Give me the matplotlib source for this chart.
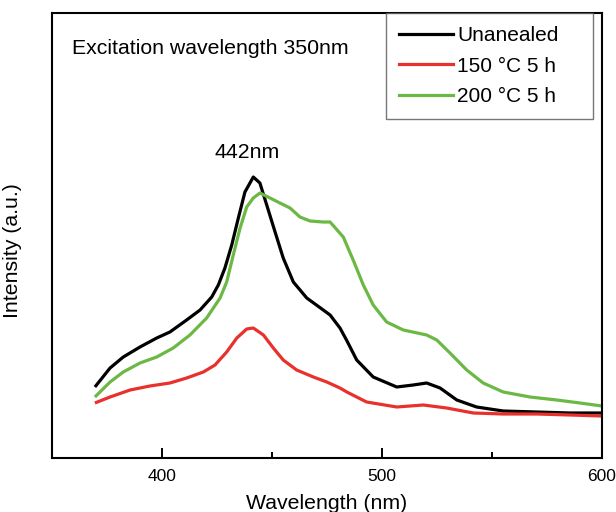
import matplotlib
matplotlib.use("Agg")
import matplotlib.pyplot as plt
from matplotlib.lines import Line2D
from matplotlib.ticker import MultipleLocator

# -------------------------------------------------------
# Data (arbitrary units)
# -------------------------------------------------------

wl_unannealed = [369.5, 376.4, 382.4, 390, 397.6, 403.6, 411.2, 417.3, 422.6, 425.6,
                 428.6, 431.7, 434.7, 437.7, 441.5, 444.5, 447.6, 451.4, 455.1, 459.7,
                 465.8, 473.3, 476.4, 480.9, 484.1, 488.5, 496, 506.7, 514.2, 520.3,
                 526.4, 534, 543, 555.1, 570.3, 585.5, 600]
int_unannealed = [71, 90, 101, 111, 120, 126, 138, 148, 161, 173,
                  190, 213, 240, 266, 281, 275, 253, 226, 200, 176,
                  160, 148, 143, 130, 117, 98, 81, 71, 73, 75,
                  70, 58, 51, 47, 46, 45, 45]

wl_150 = [369.5, 376.4, 385.5, 394.5, 403.6, 411.2, 418.8, 424.1, 429.4, 434,
          438.5, 441.5, 446.1, 450.6, 455.1, 461.2, 468.8, 474.9, 480.9, 484,
          493, 506.7, 518.8, 529.4, 541.5, 555.1, 570.3, 585.5, 600]
int_150 = [55, 61, 68, 72, 75, 80, 86, 93, 106, 120,
           129, 130, 123, 110, 98, 88, 81, 76, 70, 66,
           56, 51, 53, 50, 45, 44, 44, 43, 42]

wl_200 = [369.5, 376.4, 382.4, 390, 397.6, 405.1, 412.7, 420.3, 426.4, 429.4,
          432.4, 435.5, 438.5, 441.5, 444.5, 449.1, 453.6, 458.2, 462.7, 467.3,
          473.3, 476.4, 482.4, 486.9, 491.5, 496, 502.1, 509.7, 520.3, 524.9,
          530.9, 538.5, 546, 555.1, 567.3, 579.4, 590, 600]
int_200 = [61, 76, 86, 95, 101, 110, 123, 140, 160, 176,
           203, 230, 251, 260, 265, 260, 255, 250, 241, 237,
           236, 236, 221, 198, 173, 153, 136, 128, 123, 118,
           105, 88, 75, 66, 61, 58, 55, 52]

labels = ["Unanealed", "150 \u00b0C 5 h", "200 \u00b0C 5 h"]
colors = ["black", "#e8302c", "#6cb844"]

# -------------------------------------------------------
# Figure
# -------------------------------------------------------

plt.rcParams["font.family"] = ["Liberation Sans", "DejaVu Sans"]

fig = plt.figure(figsize=(6.16, 5.12), dpi=100)
ax = fig.add_axes([52 / 616, 54 / 512, 550 / 616, 445 / 512])

line_kw = dict(lw=2.3, solid_joinstyle="round", solid_capstyle="butt")
ax.plot(wl_unannealed, int_unannealed, color=colors[0], **line_kw)
ax.plot(wl_150, int_150, color=colors[1], **line_kw)
ax.plot(wl_200, int_200, color=colors[2], **line_kw)

ax.set_xlim(350, 600)
ax.set_ylim(0, 445)

ax.xaxis.set_major_locator(MultipleLocator(100))
ax.xaxis.set_minor_locator(MultipleLocator(50))
ax.tick_params(axis="x", which="major", direction="in", length=7, width=1.4,
               labelsize=12.5, pad=8, top=False)
ax.tick_params(axis="x", which="minor", direction="in", length=4, width=1.4, top=False)
ax.set_yticks([])

for side in ["left", "right", "top", "bottom"]:
    ax.spines[side].set_linewidth(1.5)

ax.set_xlabel("Wavelength (nm)", fontsize=15.3, labelpad=7)
ax.set_ylabel("Intensity (a.u.)", fontsize=15.3)
ax.yaxis.set_label_coords(-0.055, 0.467)

ax.text(0.037, 0.92, "Excitation wavelength 350nm", transform=ax.transAxes,
        fontsize=15.3, ha="left", va="center")
ax.text(438.6, 305, "442nm", fontsize=15.3, ha="center", va="center")

handles = [Line2D([], [], color=c, lw=2.3) for c in colors]
leg = ax.legend(handles, labels, loc="upper left",
                bbox_to_anchor=(386 / 616, 396 / 512, 207 / 616, 103 / 512),
                bbox_transform=fig.transFigure, mode="expand", borderaxespad=0,
                fontsize=15, handlelength=2.6, handletextpad=0.2,
                labelspacing=0.56, borderpad=0.62, fancybox=False)
leg.get_frame().set_edgecolor("#555555")
leg.get_frame().set_linewidth(1.0)

fig.savefig("out.png", dpi=100)
